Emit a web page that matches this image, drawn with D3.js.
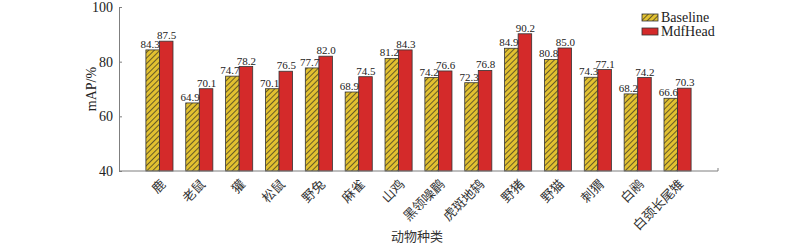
<!DOCTYPE html>
<html>
<head>
<meta charset="utf-8">
<script src="https://cdn.jsdelivr.net/npm/d3@7"></script>
<style>
  body { margin: 0; background: #fff; }
  svg { display: block; }
</style>
</head>
<body>
<div class="canvas-bar"></div>
<script>
const categories = ['鹿', '老鼠', '獾', '松鼠', '野兔', '麻雀', '山鸡', '黑领噪鹛', '虎斑地鸫', '野猪', '野猫', '刺猬', '白鹇', '白颈长尾雉'];
const baseline = [84.3, 64.9, 74.7, 70.1, 77.7, 68.9, 81.2, 74.2, 72.3, 84.9, 80.8, 74.3, 68.2, 66.6];
const mdfHead = [87.5, 70.1, 78.2, 76.5, 82.0, 74.5, 84.3, 76.6, 76.8, 90.2, 85.0, 77.1, 74.2, 70.3];
const seriesNames = ['Baseline', 'MdfHead'];
const yTicks = [40, 60, 80, 100];

const width = 800;
const height = 244;
const margin = { top: 7, right: 82, bottom: 73, left: 119 };
const graphWidth = width - margin.left - margin.right;
const graphHeight = height - margin.top - margin.bottom;

const serif = '"Liberation Serif", "Times New Roman", serif';
const cjk = '"Liberation Serif", "Noto Sans CJK SC", serif';
const axisColor = '#7f7f7f';
const yellow = '#e2c130';
const red = '#d42a2a';

const svg = d3
  .select('.canvas-bar')
  .append('svg')
  .attr('width', width)
  .attr('height', height);

const defs = svg.append('defs');
const hatch = defs
  .append('pattern')
  .attr('id', 'hatch')
  .attr('patternUnits', 'userSpaceOnUse')
  .attr('width', 4)
  .attr('height', 4)
  .attr('patternTransform', 'rotate(45)');
hatch.append('rect').attr('width', 4).attr('height', 4).attr('fill', yellow);
hatch.append('line').attr('x1', 0).attr('y1', 0).attr('x2', 0).attr('y2', 4).attr('stroke', '#222').attr('stroke-width', 1.3);

const graph = svg.append('g').attr('transform', `translate(${margin.left}, ${margin.top})`);

const x = d3.scaleBand().domain(categories).range([0, graphWidth]).paddingInner(0.32).paddingOuter(0.675);
const x1 = d3.scaleBand().domain(seriesNames).range([0, x.bandwidth()]);
const y = d3.scaleLinear().domain([40, 100]).range([graphHeight, 0]);

const fills = ['url(#hatch)', red];
const series = [baseline, mdfHead];
const labelShift = [-2.5, 0.5];

const groups = graph
  .selectAll('g.group')
  .data(categories)
  .enter()
  .append('g')
  .attr('class', 'group')
  .attr('transform', d => `translate(${x(d)}, 0)`);

seriesNames.forEach((name, si) => {
  groups
    .append('rect')
    .attr('x', x1(name))
    .attr('y', (d, i) => y(series[si][i]))
    .attr('width', x1.bandwidth())
    .attr('height', (d, i) => graphHeight - y(series[si][i]))
    .attr('fill', fills[si])
    .attr('stroke', '#333')
    .attr('stroke-width', 0.8);
});

// value labels on top, after all bars
seriesNames.forEach((name, si) => {
  groups
    .append('text')
    .attr('x', x1(name) + x1.bandwidth() / 2 + labelShift[si])
    .attr('y', (d, i) => y(series[si][i]) - 2)
    .attr('text-anchor', 'middle')
    .style('font-family', serif)
    .style('font-size', '11px')
    .attr('fill', '#222')
    .text((d, i) => series[si][i].toFixed(1));
});

// axes
const yAxis = d3.axisLeft(y).tickValues(yTicks).tickSize(-3).tickPadding(6);
const yAxisGroup = graph.append('g').call(yAxis);
yAxisGroup.select('.domain').attr('stroke', axisColor);
yAxisGroup.selectAll('.tick line').attr('stroke', axisColor);
yAxisGroup.selectAll('text').style('font-family', serif).style('font-size', '14px').attr('fill', '#222');

const xAxis = d3.axisBottom(x).tickSize(0).tickPadding(0);
const xAxisGroup = graph.append('g').attr('transform', `translate(0, ${graphHeight})`).call(xAxis);
xAxisGroup.select('.domain').attr('stroke', axisColor).attr('d', `M0,0H${graphWidth}V-3`);
xAxisGroup
  .selectAll('text')
  .style('font-family', cjk)
  .style('font-size', '13px')
  .attr('fill', '#333')
  .attr('text-anchor', 'end')
  .attr('y', 0)
  .attr('dy', 0)
  .attr('transform', 'translate(7, 14) rotate(-45)');

// titles
svg
  .append('text')
  .attr('transform', `translate(96, ${margin.top + graphHeight / 2}) rotate(-90)`)
  .attr('text-anchor', 'middle')
  .style('font-family', serif)
  .style('font-size', '14px')
  .attr('fill', '#222')
  .text('mAP/%');

svg
  .append('text')
  .attr('x', 417)
  .attr('y', 241)
  .attr('text-anchor', 'middle')
  .style('font-family', cjk)
  .style('font-size', '13px')
  .attr('fill', '#333')
  .text('动物种类');

// legend
const legend = svg.append('g').attr('transform', 'translate(642, 14)');
seriesNames.forEach((name, i) => {
  const row = legend.append('g').attr('transform', `translate(0, ${i * 14})`);
  row.append('rect').attr('x', 0).attr('y', 0).attr('width', 16).attr('height', 7).attr('fill', fills[i]).attr('stroke', '#333').attr('stroke-width', 0.8);
  row
    .append('text')
    .attr('x', 19)
    .attr('y', 8)
    .style('font-family', serif)
    .style('font-size', '14px')
    .attr('fill', '#222')
    .text(name);
});
</script>
</body>
</html>
